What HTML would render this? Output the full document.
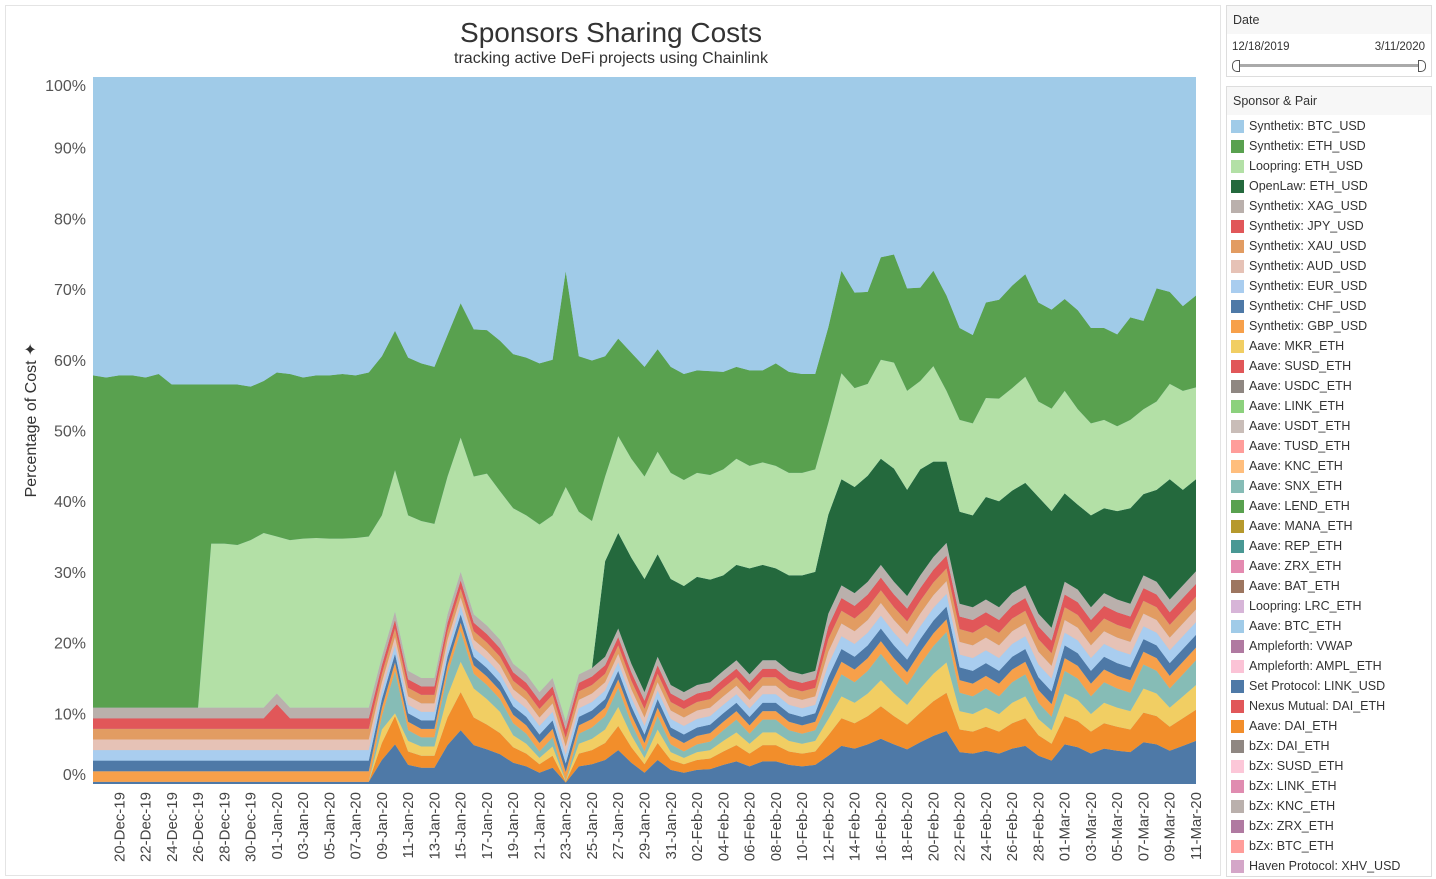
<!DOCTYPE html>
<html><head><meta charset="utf-8"><style>
body{margin:0;width:1436px;height:879px;background:#fff;font-family:"Liberation Sans",sans-serif;overflow:hidden;position:relative}
#panel{position:absolute;left:5px;top:5px;width:1214px;height:869px;border:1px solid #e4e4e4}
.box{position:absolute;left:1226px;width:204px;border:1px solid #ddd;background:#fff}
.hdr{background:#f7f7f7;height:28px;font-size:12.5px;color:#333;padding-left:6px;line-height:28px}
.li{position:absolute;left:4px;height:14px;font-size:12.5px;color:#333;white-space:nowrap}
.sw{position:absolute;left:0;top:0;width:13px;height:13px}
.lt{position:absolute;left:18px;top:-1px}
</style></head><body>
<div id="panel"></div>
<svg id="chart" width="1220" height="879" style="position:absolute;left:0;top:0"></svg>
<div class="box" style="top:5px;height:70px">
<div class="hdr">Date</div>
<div style="position:absolute;left:5px;top:35px;font-size:11.5px;color:#333">12/18/2019</div>
<div style="position:absolute;right:6px;top:35px;font-size:11.5px;color:#333">3/11/2020</div>
<div style="position:absolute;left:8px;top:58px;width:186px;height:3px;background:#aaa"></div>
<div style="position:absolute;left:5px;top:54px;width:6px;height:10px;border:1px solid #555;border-radius:5px 0 0 5px;background:#fff"></div>
<div style="position:absolute;left:191px;top:54px;width:6px;height:10px;border:1px solid #555;border-radius:0 5px 5px 0;background:#fff"></div>
</div>
<div class="box" id="legend" style="top:86px;height:789px">
<div class="hdr">Sponsor &amp; Pair</div>
</div>
<script>
const tickLabels=["20-Dec-19","22-Dec-19","24-Dec-19","26-Dec-19","28-Dec-19","30-Dec-19","01-Jan-20","03-Jan-20","05-Jan-20","07-Jan-20","09-Jan-20","11-Jan-20","13-Jan-20","15-Jan-20","17-Jan-20","19-Jan-20","21-Jan-20","23-Jan-20","25-Jan-20","27-Jan-20","29-Jan-20","31-Jan-20","02-Feb-20","04-Feb-20","06-Feb-20","08-Feb-20","10-Feb-20","12-Feb-20","14-Feb-20","16-Feb-20","18-Feb-20","20-Feb-20","22-Feb-20","24-Feb-20","26-Feb-20","28-Feb-20","01-Mar-20","03-Mar-20","05-Mar-20","07-Mar-20","09-Mar-20","11-Mar-20"];
const yTicks=[0,10,20,30,40,50,60,70,80,90,100];
const nDays=85;
const setLink=[.3,.3,.3,.3,.3,.3,.3,.3,.3,.3, .3,.3,.3,.3,.3,.3,.3,.3,.3,.3, .3,.3,3.4,5.6,2.7,2.3,2.3,5.5,7.6,5.5, 4.9,4.2,3.0,2.5,1.6,2.3,0.2,2.5,2.8,3.4, 4.8,3.0,1.6,3.4,2.0,1.6,2.0,2.1,2.7,3.2, 2.5,3.2,3.2,2.7,2.5,2.7,4.0,5.4,5.0,5.6, 6.4,5.6,4.9,5.9,6.8,7.5,4.5,4.3,4.7,4.3, 5.0,5.4,4.0,3.3,5.6,5.2,4.3,5.0,4.7,4.5, 5.9,5.6,4.7,5.4,6.1];
const daiEth=[0,0,0,0,0,0,0,0,0,0, 0,0,0,0,0,0,0,0,0,0, 0,0,2.4,4.0,1.9,1.7,1.7,3.9,5.4,3.9, 3.5,3.0,2.2,1.8,1.2,1.7,0.1,1.8,2.0,2.4, 3.4,2.2,1.2,2.4,1.4,1.2,1.4,1.5,1.9,2.3, 1.8,2.3,2.3,1.9,1.8,1.9,2.9,3.9,3.6,4.0, 4.6,4.0,3.5,4.2,4.9,5.4,3.2,3.1,3.4,3.1, 3.6,3.9,2.9,2.4,4.0,3.7,3.1,3.6,3.4,3.2, 4.2,4.0,3.4,3.9,4.4];
const mkrEth=[0,0,0,0,0,0,0,0,0,0, 0,0,0,0,0,0,0,0,0,0, 0,0,1.9,0.4,1.5,1.3,1.3,3.1,4.3,4.1, 3.6,3.0,1.7,1.4,0.9,1.3,0.1,1.4,1.6,1.9, 2.7,1.7,0.9,1.9,1.1,0.9,1.1,1.2,1.5,1.8, 1.4,1.8,1.8,1.5,1.4,1.5,2.3,3.1,2.9,3.2, 3.7,3.2,2.8,3.4,3.9,4.3,2.6,2.5,2.7,2.5, 2.9,3.1,2.3,1.9,3.2,3.0,2.5,2.9,2.7,2.6, 3.4,3.2,2.7,3.1,3.5];
const snxEth=[0,0,0,0,0,0,0,0,0,0, 0,0,0,0,0,0,0,0,0,0, 0,0,1.9,6.0,1.5,1.3,1.3,3.1,4.3,2.1, 2.0,1.8,1.7,1.4,0.9,1.3,0.1,1.4,1.6,1.9, 2.7,1.7,0.9,1.9,1.1,0.9,1.1,1.2,1.5,1.8, 1.4,1.8,1.8,1.5,1.4,1.5,2.3,3.1,2.9,3.2, 3.7,3.2,2.8,3.4,3.9,4.3,2.6,2.5,2.7,2.5, 2.9,3.1,2.3,1.9,3.2,3.0,2.5,2.9,2.7,2.6, 3.4,3.2,2.7,3.1,3.5];
const gbp=[1.5,1.5,1.5,1.5,1.5,1.5,1.5,1.5,1.5,1.5, 1.5,1.5,1.5,1.5,1.5,1.5,1.5,1.5,1.5,1.5, 1.5,1.5,1.2,1.2,1.2,1.2,1.2,1.2,1.2,1.2, 1.2,1.2,1.2,1.2,1.2,1.2,1.2,1.2,1.2,1.2, 1.2,1.2,1.2,1.2,1.2,1.2,1.2,1.2,1.2,1.2, 1.2,1.2,1.2,1.2,1.2,1.2,1.8,1.8,1.8,1.8, 1.8,1.8,1.8,1.8,1.8,1.8,1.8,1.8,1.8,1.8, 1.8,1.8,1.8,1.8,1.8,1.8,1.8,1.8,1.8,1.8, 1.8,1.8,1.8,1.8,1.8];
const chf=[1.5,1.5,1.5,1.5,1.5,1.5,1.5,1.5,1.5,1.5, 1.5,1.5,1.5,1.5,1.5,1.5,1.5,1.5,1.5,1.5, 1.5,1.5,1.2,1.2,1.2,1.2,1.2,1.2,1.2,1.2, 1.2,1.2,1.2,1.2,1.2,1.2,1.2,1.2,1.2,1.2, 1.2,1.2,1.2,1.2,1.2,1.2,1.2,1.2,1.2,1.2, 1.2,1.2,1.2,1.2,1.2,1.2,1.8,1.8,1.8,1.8, 1.8,1.8,1.8,1.8,1.8,1.8,1.8,1.8,1.8,1.8, 1.8,1.8,1.8,1.8,1.8,1.8,1.8,1.8,1.8,1.8, 1.8,1.8,1.8,1.8,1.8];
const eur=[1.5,1.5,1.5,1.5,1.5,1.5,1.5,1.5,1.5,1.5, 1.5,1.5,1.5,1.5,1.5,1.5,1.5,1.5,1.5,1.5, 1.5,1.5,1.2,1.2,1.2,1.2,1.2,1.2,1.2,1.2, 1.2,1.2,1.2,1.2,1.2,1.2,1.2,1.2,1.2,1.2, 1.2,1.2,1.2,1.2,1.2,1.2,1.2,1.2,1.2,1.2, 1.2,1.2,1.2,1.2,1.2,1.2,1.8,1.8,1.8,1.8, 1.8,1.8,1.8,1.8,1.8,1.8,1.8,1.8,1.8,1.8, 1.8,1.8,1.8,1.8,1.8,1.8,1.8,1.8,1.8,1.8, 1.8,1.8,1.8,1.8,1.8];
const aud=[1.5,1.5,1.5,1.5,1.5,1.5,1.5,1.5,1.5,1.5, 1.5,1.5,1.5,1.5,1.5,1.5,1.5,1.5,1.5,1.5, 1.5,1.5,1.2,1.2,1.2,1.2,1.2,1.2,1.2,1.2, 1.2,1.2,1.2,1.2,1.2,1.2,1.2,1.2,1.2,1.2, 1.2,1.2,1.2,1.2,1.2,1.2,1.2,1.2,1.2,1.2, 1.2,1.2,1.2,1.2,1.2,1.2,1.8,1.8,1.8,1.8, 1.8,1.8,1.8,1.8,1.8,1.8,1.8,1.8,1.8,1.8, 1.8,1.8,1.8,1.8,1.8,1.8,1.8,1.8,1.8,1.8, 1.8,1.8,1.8,1.8,1.8];
const xau=[1.5,1.5,1.5,1.5,1.5,1.5,1.5,1.5,1.5,1.5, 1.5,1.5,1.5,1.5,1.5,1.5,1.5,1.5,1.5,1.5, 1.5,1.5,1.2,1.2,1.2,1.2,1.2,1.2,1.2,1.2, 1.2,1.2,1.2,1.2,1.2,1.2,1.2,1.2,1.2,1.2, 1.2,1.2,1.2,1.2,1.2,1.2,1.2,1.2,1.2,1.2, 1.2,1.2,1.2,1.2,1.2,1.2,1.8,1.8,1.8,1.8, 1.8,1.8,1.8,1.8,1.8,1.8,1.8,1.8,1.8,1.8, 1.8,1.8,1.8,1.8,1.8,1.8,1.8,1.8,1.8,1.8, 1.8,1.8,1.8,1.8,1.8];
const jpy=[1.5,1.5,1.5,1.5,1.5,1.5,1.5,1.5,1.5,1.5, 1.5,1.5,1.5,1.5,3.5,1.5,1.5,1.5,1.5,1.5, 1.5,1.5,1.2,1.2,1.2,1.2,1.2,1.2,1.2,1.2, 1.2,1.2,1.2,1.2,1.2,1.2,1.2,1.2,1.2,1.2, 1.2,1.2,1.2,1.2,1.2,1.2,1.2,1.2,1.2,1.2, 1.2,1.2,1.2,1.2,1.2,1.2,1.8,1.8,1.8,1.8, 1.8,1.8,1.8,1.8,1.8,1.8,1.8,1.8,1.8,1.8, 1.8,1.8,1.8,1.8,1.8,1.8,1.8,1.8,1.8,1.8, 1.8,1.8,1.8,1.8,1.8];
const xag=[1.5,1.5,1.5,1.5,1.5,1.5,1.5,1.5,1.5,1.5, 1.5,1.5,1.5,1.5,1.5,1.5,1.5,1.5,1.5,1.5, 1.5,1.5,1.2,1.2,1.2,1.2,1.2,1.2,1.2,1.2, 1.2,1.2,1.2,1.2,1.2,1.2,1.2,1.2,1.2,1.2, 1.2,1.2,1.2,1.2,1.2,1.2,1.2,1.2,1.2,1.2, 1.2,1.2,1.2,1.2,1.2,1.2,1.8,1.8,1.8,1.8, 1.8,1.8,1.8,1.8,1.8,1.8,1.8,1.8,1.8,1.8, 1.8,1.8,1.8,1.8,1.8,1.8,1.8,1.8,1.8,1.8, 1.8,1.8,1.8,1.8,1.8];
const openLaw=[0,0,0,0,0,0,0,0,0,0, 0,0,0,0,0,0,0,0,0,0, 0,0,0,0,0,0,0,0,0,0, 0,0,0,0,0,0,0,0,0,13.5, 13.5,15,16,14.5,15,15,15.3,14.5,13.5,13.5, 15,13.5,13,13.5,14,14,14,15,15,15, 15,16,15,15,13.5,11.5,13,13,14.5,15, 14.5,14.5,16.5,16.5,12.5,12,13,12,12.5,13.5, 11.5,13,17,13.5,13];
const loopEth=[0,0,0,0,0,0,0,0,0,23.2, 23.2,23.0,23.7,24.7,22.2,23.7,23.9,24.0,23.9,23.9, 24.0,24.2,20,20,22,22.2,21.8,19.5,19,19.5, 21.5,21,22,22.5,23.7,23,33.1,23,20.8,12, 13.7,14,14.5,14.5,15,15,14.7,14.8,15,15, 14.5,14.5,14.5,14.5,14.5,14.5,13,15,14,13, 14,15,14,12.5,13.5,10,13,13,14,14.5, 14.5,15,13.5,14.5,14.5,13.5,13,12.5,12,12.5, 12,12.5,13.5,14,13];
const ethUsd=[47,46.7,47,47,46.7,47.2,45.7,45.7,45.7,22.5, 22.5,22.7,21.7,21.5,23.2,23.5,22.8,23,23.1,23.3, 23,23.2,22.5,19.7,22.3,22.3,22.2,20,19,20.8, 20.3,21.3,21.8,22.3,22.8,22,30.5,22,22.7,17, 13.8,15,15.5,14.5,15,15,14.5,14.7,13.8,13, 13.5,13,14.5,14.3,14,13.5,13.5,14.5,13.5,13, 14.5,15.3,14.5,13.2,13.5,13.5,13,12.5,13.5,14, 14.5,14.5,14,14,13,14,13.5,13,13,14.5, 12.5,16,13,12,13];
const btcUsd=[42.2,42.5,42.2,42.2,42.5,42,43.5,43.5,43.5,43.5, 43.5,43.5,43.8,43,41.8,42,42.5,42.2,42.2,42, 42.2,41.8,39.5,35.8,39.7,40.5,41,36.5,32,35.7, 35.7,37.2,39.2,39.7,40.5,40,27.5,39.5,40,39.5, 37,39,41,38.5,41,42,41.5,41.5,41.7,41, 41.5,41.5,40.5,41.7,42,42,35.5,27.5,30.5,30.5, 25.5,25.2,30,29.8,27.5,31,35.5,36.5,32,31.5, 29.5,28,32,33,31.5,33,35.5,35.5,36.5,34, 34.5,30,30.5,32.5,31];

const stack=[
 ["set-linkusd",setLink,"#4e79a7"],["aave-daieth",daiEth,"#f28e2b"],["aave-mkreth",mkrEth,"#f1ce63"],["aave-snxeth",snxEth,"#86bcb6"],
 ["synthetix-gbpusd",gbp,"#f7a04a"],["synthetix-chfusd",chf,"#4e79a7"],["synthetix-eurusd",eur,"#a9cdef"],["synthetix-audusd",aud,"#e6c2b6"],
 ["synthetix-xauusd",xau,"#e29c62"],["synthetix-jpyusd",jpy,"#e15759"],["synthetix-xagusd",xag,"#bab0ac"],
 ["openlaw-ethusd",openLaw,"#24693d"],["loopring-ethusd",loopEth,"#b3e0a6"],["synthetix-ethusd",ethUsd,"#59a14f"],["synthetix-btcusd",btcUsd,"#a0cbe8"]
];
const legendItems=[["Synthetix: BTC_USD","#a0cbe8"],["Synthetix: ETH_USD","#59a14f"],["Loopring: ETH_USD","#b3e0a6"],["OpenLaw: ETH_USD","#24693d"],["Synthetix: XAG_USD","#bab0ac"],["Synthetix: JPY_USD","#e15759"],["Synthetix: XAU_USD","#e29c62"],["Synthetix: AUD_USD","#e6c2b6"],["Synthetix: EUR_USD","#a9cdef"],["Synthetix: CHF_USD","#4e79a7"],["Synthetix: GBP_USD","#f7a04a"],["Aave: MKR_ETH","#f1ce63"],["Aave: SUSD_ETH","#e15759"],["Aave: USDC_ETH","#8f8782"],["Aave: LINK_ETH","#8cd17d"],["Aave: USDT_ETH","#c9bdb8"],["Aave: TUSD_ETH","#ff9d9a"],["Aave: KNC_ETH","#ffbe7d"],["Aave: SNX_ETH","#86bcb6"],["Aave: LEND_ETH","#59a14f"],["Aave: MANA_ETH","#b6992d"],["Aave: REP_ETH","#499894"],["Aave: ZRX_ETH","#e48ab0"],["Aave: BAT_ETH","#9d7660"],["Loopring: LRC_ETH","#d7b5d8"],["Aave: BTC_ETH","#a0cbe8"],["Ampleforth: VWAP","#b07aa1"],["Ampleforth: AMPL_ETH","#fbc3d6"],["Set Protocol: LINK_USD","#4e79a7"],["Nexus Mutual: DAI_ETH","#e15759"],["Aave: DAI_ETH","#f28e2b"],["bZx: DAI_ETH","#8f8782"],["bZx: SUSD_ETH","#fcc7d8"],["bZx: LINK_ETH","#e08cb0"],["bZx: KNC_ETH","#bab0ac"],["bZx: ZRX_ETH","#b07aa1"],["bZx: BTC_ETH","#ff9d9a"],["Haven Protocol: XHV_USD","#d4a6c8"]];

const NS="http://www.w3.org/2000/svg";
const svg=document.getElementById('chart');
const X0=93,X1=1196,Y0=784,Y1=77;
const xS=d=>X0+d*(X1-X0)/(nDays-1);
const yS=v=>Y0-v*(Y0-Y1)/100;
function mk(t,a){const e=document.createElementNS(NS,t);for(const k in a)e.setAttribute(k,a[k]);svg.appendChild(e);return e;}
const defs=mk('defs',{});
const cp=document.createElementNS(NS,'clipPath');cp.setAttribute('id','pc');
const cr=document.createElementNS(NS,'rect');cr.setAttribute('x',X0);cr.setAttribute('y',Y1);cr.setAttribute('width',X1-X0);cr.setAttribute('height',Y0-Y1);
cp.appendChild(cr);defs.appendChild(cp);
const bg=mk('rect',{x:X0,y:Y1,width:X1-X0,height:Y0-Y1,fill:'#a0cbe8'});


const g=mk('g',{'clip-path':'url(#pc)'});


const base=new Array(nDays).fill(0);
stack.forEach(s=>{
  const vals=s[1];const top=base.map((b,i)=>b+vals[i]);
  let d='M'+xS(0)+','+yS(top[0]);
  for(let i=1;i<nDays;i++)d+='L'+xS(i)+','+yS(top[i]);
  for(let i=nDays-1;i>=0;i--)d+='L'+xS(i)+','+yS(base[i]);
  d+='Z';
  const p=document.createElementNS(NS,'path');
  p.setAttribute('d',d);p.setAttribute('fill',s[2]);
  
  
  g.appendChild(p);
  for(let i=0;i<nDays;i++)base[i]=top[i];
});
yTicks.forEach(v=>{
  let yy=yS(v)+6; if(v===100)yy=yS(v)+14; if(v===0)yy=yS(v)-4;
  const t=mk('text',{x:86,y:yy,'text-anchor':'end','font-size':16,fill:'#555','font-family':'Liberation Sans'});
  t.textContent=v+'%';
  
  
});
tickLabels.forEach((lab,i)=>{
  const d=2+2*i;const x=xS(d)+5;
  const t=mk('text',{x:0,y:0,transform:'translate('+x+',792) rotate(-90)','text-anchor':'end','font-size':15,fill:'#444','font-family':'Liberation Sans'});
  t.textContent=lab;
  
  
});
const yt=mk('text',{x:0,y:0,transform:'translate(36,420) rotate(-90)','text-anchor':'middle','font-size':16,fill:'#333','font-family':'Liberation Sans'});
yt.textContent='Percentage of Cost ✦';


const tt=mk('text',{x:611,y:42,'text-anchor':'middle','font-size':28,fill:'#333','font-family':'Liberation Sans'});
tt.textContent='Sponsors Sharing Costs';


const st=mk('text',{x:611,y:63,'text-anchor':'middle','font-size':16,fill:'#333','font-family':'Liberation Sans'});
st.textContent='tracking active DeFi projects using Chainlink';



const leg=document.getElementById('legend');
legendItems.forEach((it,i)=>{
  const row=document.createElement('div');row.className='li';row.style.top=(33+i*20)+'px';
  
  
  const sw=document.createElement('div');sw.className='sw';sw.style.background=it[1];
  
  
  const tx=document.createElement('div');tx.className='lt';tx.textContent=it[0];
  
  
  row.appendChild(sw);row.appendChild(tx);leg.appendChild(row);
});
</script>
</body></html>
